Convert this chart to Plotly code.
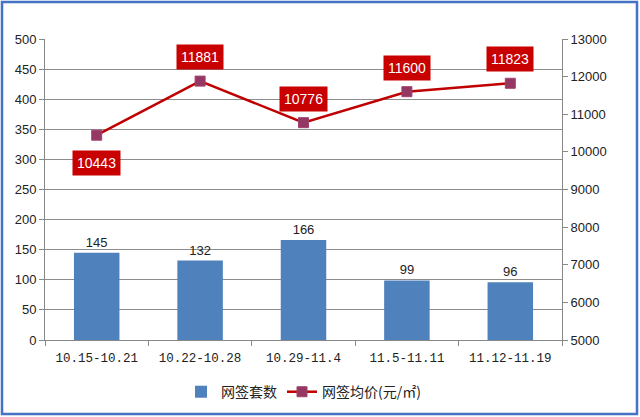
import plotly.graph_objects as go

categories = ["10.15-10.21", "10.22-10.28", "10.29-11.4", "11.5-11.11", "11.12-11.19"]
counts = [145, 132, 166, 99, 96]
prices = [10443, 11881, 10776, 11600, 11823]
label_shift = [-28, 24, 24, 24, 24]

W, H = 640, 417
ml, mr, mt, mb = 45, 78, 39, 77
pw, ph = W - ml - mr, H - mt - mb

fig = go.Figure()
fig.add_trace(go.Bar(
    x=categories, y=counts, name="网签套数",
    marker=dict(color="#4F81BD", line=dict(width=0)),
    width=0.44,
    text=[str(v) for v in counts], textposition="outside",
    textfont=dict(family="Liberation Sans, Arial", size=13, color="#222"),
    cliponaxis=False,
))
fig.add_trace(go.Scatter(
    x=categories, y=prices, name="网签均价(元/㎡)", yaxis="y2",
    mode="lines+markers",
    line=dict(color="#C00000", width=2.5),
    marker=dict(symbol="square", size=10, color="#953763", line=dict(color="#A0406E", width=1)),
))

for c, p, s in zip(categories, prices, label_shift):
    fig.add_annotation(
        x=c, y=p, xref="x", yref="y2", yshift=s, text=str(p), showarrow=False,
        font=dict(family="Liberation Sans, Arial", size=14, color="white"),
        bgcolor="#C80000", borderpad=4,
    )

fig.add_shape(
    type="rect", xref="paper", yref="paper",
    x0=(2 - ml) / pw, x1=(637 - ml) / pw,
    y0=(H - mb - 414) / ph, y1=(H - mb - 2) / ph,
    line=dict(color="#4472C4", width=2.5), layer="below",
)

fig.update_layout(
    width=W, height=H,
    margin=dict(l=ml, r=mr, t=mt, b=mb, autoexpand=False),
    paper_bgcolor="white", plot_bgcolor="white",
    showlegend=True,
    legend=dict(orientation="h", x=0.5, xanchor="center", y=-0.12, yanchor="top",
                font=dict(family="Noto Sans CJK SC", size=14, color="#222"),
                itemwidth=30),
    xaxis=dict(
        showline=True, linecolor="#888", linewidth=1,
        ticks="outside", tickcolor="#888", ticklen=5, tickson="boundaries",
        tickfont=dict(family="Liberation Mono, monospace", size=12.5, color="#222"),
        showgrid=False, automargin=False, ticklabelstandoff=6,
    ),
    yaxis=dict(
        range=[0, 500], dtick=50, showline=True, linecolor="#888", linewidth=1,
        ticks="outside", tickcolor="#888", ticklen=5,
        gridcolor="#8C8C8C", gridwidth=1,
        tickfont=dict(family="Liberation Sans, Arial", size=13, color="#222"),
        zeroline=False, automargin=False,
    ),
    yaxis2=dict(
        range=[5000, 13000], dtick=1000, overlaying="y", side="right",
        showline=True, linecolor="#888", linewidth=1,
        ticks="outside", tickcolor="#888", ticklen=5,
        showgrid=False, zeroline=False, tickformat="d", automargin=False,
        tickfont=dict(family="Liberation Sans, Arial", size=13, color="#222"),
    ),
    bargap=0.56,
)

fig.write_html("out.html")
